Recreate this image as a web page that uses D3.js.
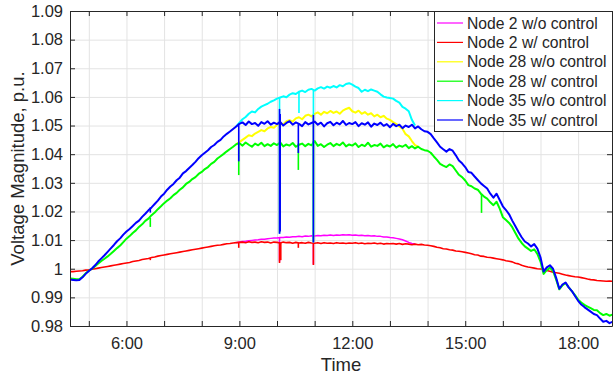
<!DOCTYPE html>
<html>
<head>
<meta charset="utf-8">
<script src="https://cdn.jsdelivr.net/npm/d3@7"></script>
<style>
body { margin: 0; background: #fff; }
text { font-family: "Liberation Sans", Arial, Helvetica, sans-serif; fill: #262626; }
</style>
</head>
<body>
<script>

// sample clock: every 5 minutes from 4:30 to 18:55
var sampleStart = "4:30", sampleStep = 5, sampleCount = 174;
var windowStart = "8:55"; // w/o control series only differ from here on

var seriesNames = ["Node 2 w/o control", "Node 2 w/ control", "Node 28 w/o control",
                   "Node 28 w/ control", "Node 35 w/o control", "Node 35 w/ control"];
var seriesColors = ["#ff00ff", "#ff0000", "#ffff00", "#00ff00", "#00ffff", "#0000ff"];

var xTickHours = [5, 6, 7, 8, 9, 10, 11, 12, 13, 14, 15, 16, 17, 18];
var xTickLabels = {6: "6:00", 9: "9:00", 12: "12:00", 15: "15:00", 18: "18:00"};
var yTicks = [0.98, 0.99, 1.00, 1.01, 1.02, 1.03, 1.04, 1.05, 1.06, 1.07, 1.08, 1.09];
var yTickLabels = ["0.98", "0.99", "1", "1.01", "1.02", "1.03", "1.04", "1.05", "1.06", "1.07", "1.08", "1.09"];

// Node 2 w/ control
var node2With = [
  0.9990, 0.9990, 0.9991, 0.9992, 0.9993, 0.9995,
  0.9996, 0.9998, 1.0000, 1.0002, 1.0004, 1.0006, 1.0008, 1.0010, 1.0012, 1.0014, 1.0016, 1.0018,
  1.0020, 1.0022, 1.0025, 1.0027, 1.0029, 1.0032, 1.0034, 1.0036, 1.0039, 1.0041, 1.0044, 1.0046,
  1.0048, 1.0050, 1.0052, 1.0054, 1.0056, 1.0058, 1.0060, 1.0062, 1.0064, 1.0066, 1.0068, 1.0070,
  1.0072, 1.0074, 1.0076, 1.0078, 1.0080, 1.0082, 1.0083, 1.0085, 1.0087, 1.0088, 1.0090, 1.0091,
  1.0092, 1.0093, 1.0091, 1.0094, 1.0092, 1.0093, 1.0091, 1.0094, 1.0092, 1.0093, 1.0090, 1.0093,
  1.0092, 1.0090, 1.0093, 1.0091, 1.0092, 1.0089, 1.0092, 1.0090, 1.0091, 1.0089, 1.0092, 1.0090,
  1.0089, 1.0091, 1.0088, 1.0091, 1.0089, 1.0090, 1.0088, 1.0091, 1.0089, 1.0090, 1.0088, 1.0090,
  1.0089, 1.0091, 1.0088, 1.0090, 1.0087, 1.0089, 1.0088, 1.0090, 1.0087, 1.0089, 1.0086, 1.0088,
  1.0087, 1.0088, 1.0086, 1.0088, 1.0085, 1.0087, 1.0086, 1.0084, 1.0086, 1.0084, 1.0085, 1.0083,
  1.0082, 1.0080, 1.0078, 1.0075, 1.0073, 1.0070, 1.0069, 1.0066, 1.0065, 1.0062, 1.0061, 1.0059,
  1.0057, 1.0055, 1.0052, 1.0049, 1.0048, 1.0044, 1.0043, 1.0040, 1.0039, 1.0037, 1.0035, 1.0033,
  1.0031, 1.0028, 1.0026, 1.0024, 1.0019, 1.0017, 1.0012, 1.0009, 1.0006, 1.0004, 1.0002, 1.0000,
  0.9999, 0.9998, 0.9994, 0.9991, 0.9988, 0.9986, 0.9984, 0.9981, 0.9978, 0.9976, 0.9974, 0.9972,
  0.9971, 0.9969, 0.9967, 0.9964, 0.9962, 0.9961, 0.9959, 0.9958, 0.9957, 0.9956, 0.9957, 0.9956
];

// Node 28 w/ control
var node28With = [
  0.9966, 0.9965, 0.9963, 0.9963, 0.9972, 0.9984,
  0.9993, 1.0000, 1.0009, 1.0018, 1.0027, 1.0035, 1.0043, 1.0052, 1.0062, 1.0072, 1.0081, 1.0093,
  1.0105, 1.0114, 1.0125, 1.0134, 1.0146, 1.0155, 1.0167, 1.0175, 1.0187, 1.0196, 1.0208, 1.0218,
  1.0229, 1.0238, 1.0246, 1.0257, 1.0265, 1.0276, 1.0284, 1.0296, 1.0303, 1.0313, 1.0320, 1.0331,
  1.0338, 1.0348, 1.0355, 1.0366, 1.0373, 1.0385, 1.0393, 1.0401, 1.0410, 1.0418, 1.0426, 1.0435,
  1.0438, 1.0430, 1.0441, 1.0433, 1.0426, 1.0437, 1.0431, 1.0440, 1.0428, 1.0435, 1.0429, 1.0438,
  1.0432, 1.0441, 1.0427, 1.0434, 1.0430, 1.0439, 1.0426, 1.0433, 1.0437, 1.0428, 1.0436, 1.0431,
  1.0446, 1.0429, 1.0435, 1.0425, 1.0433, 1.0439, 1.0428, 1.0436, 1.0431, 1.0441, 1.0427, 1.0434,
  1.0430, 1.0438, 1.0425, 1.0433, 1.0428, 1.0440, 1.0426, 1.0432, 1.0429, 1.0437, 1.0424, 1.0431,
  1.0427, 1.0435, 1.0423, 1.0430, 1.0426, 1.0433, 1.0421, 1.0428, 1.0420, 1.0426, 1.0418, 1.0414,
  1.0412, 1.0405, 1.0392, 1.0380, 1.0366, 1.0360, 1.0355, 1.0364, 1.0358, 1.0343, 1.0328, 1.0320,
  1.0308, 1.0292, 1.0288, 1.0280, 1.0276, 1.0262, 1.0252, 1.0245, 1.0232, 1.0222, 1.0234, 1.0210,
  1.0180, 1.0170, 1.0160, 1.0145, 1.0125, 1.0105, 1.0090, 1.0078, 1.0070, 1.0062, 1.0068, 1.0052,
  1.0025, 0.9982, 0.9995, 1.0003, 0.9992, 0.9962, 0.9928, 0.9942, 0.9950, 0.9935, 0.9922, 0.9908,
  0.9892, 0.9882, 0.9874, 0.9868, 0.9862, 0.9856, 0.9855, 0.9845, 0.9838, 0.9842, 0.9836, 0.9840
];

// Node 35 w/ control
var node35With = [
  0.9962, 0.9961, 0.9960, 0.9961, 0.9970, 0.9982,
  0.9992, 1.0001, 1.0012, 1.0025, 1.0036, 1.0047, 1.0059, 1.0071, 1.0083, 1.0096, 1.0106, 1.0119,
  1.0130, 1.0139, 1.0149, 1.0160, 1.0168, 1.0181, 1.0192, 1.0204, 1.0214, 1.0226, 1.0238, 1.0252,
  1.0262, 1.0276, 1.0287, 1.0296, 1.0309, 1.0318, 1.0333, 1.0341, 1.0352, 1.0362, 1.0373, 1.0386,
  1.0396, 1.0405, 1.0414, 1.0425, 1.0432, 1.0443, 1.0450, 1.0462, 1.0471, 1.0479, 1.0488, 1.0497,
  1.0506, 1.0511, 1.0502, 1.0514, 1.0505, 1.0509, 1.0499, 1.0512, 1.0506, 1.0515, 1.0503, 1.0510,
  1.0505, 1.0513, 1.0500, 1.0509, 1.0515, 1.0503, 1.0511, 1.0506, 1.0498, 1.0512, 1.0504, 1.0509,
  1.0514, 1.0503, 1.0510, 1.0497, 1.0508, 1.0513, 1.0501, 1.0510, 1.0504, 1.0516, 1.0502, 1.0509,
  1.0505, 1.0512, 1.0498, 1.0508, 1.0503, 1.0511, 1.0496, 1.0507, 1.0502, 1.0510, 1.0499, 1.0505,
  1.0494, 1.0506, 1.0498, 1.0503, 1.0491, 1.0500, 1.0495, 1.0503, 1.0490, 1.0497, 1.0487, 1.0480,
  1.0478, 1.0470, 1.0455, 1.0441, 1.0426, 1.0417, 1.0409, 1.0418, 1.0412, 1.0396, 1.0378, 1.0368,
  1.0355, 1.0338, 1.0335, 1.0322, 1.0310, 1.0298, 1.0289, 1.0280, 1.0262, 1.0248, 1.0262, 1.0240,
  1.0218, 1.0205, 1.0190, 1.0168, 1.0148, 1.0128, 1.0110, 1.0095, 1.0088, 1.0078, 1.0086, 1.0070,
  1.0040, 0.9990, 1.0005, 1.0012, 1.0000, 0.9968, 0.9930, 0.9945, 0.9952, 0.9935, 0.9922, 0.9905,
  0.9888, 0.9875, 0.9866, 0.9858, 0.9850, 0.9842, 0.9838, 0.9826, 0.9815, 0.9818, 0.9810, 0.9815
];

// w/o control series, from 8:55 on (identical to the w/ series elsewhere)
var node2Without = [
  1.0091,
  1.0093, 1.0095, 1.0096, 1.0098, 1.0099, 1.0100, 1.0101, 1.0103, 1.0103, 1.0105, 1.0106, 1.0107,
  1.0107, 1.0109, 1.0109, 1.0111, 1.0110, 1.0112, 1.0112, 1.0113, 1.0112, 1.0114, 1.0113, 1.0115,
  1.0114, 1.0116, 1.0115, 1.0117, 1.0116, 1.0118, 1.0116, 1.0118, 1.0117, 1.0119, 1.0118, 1.0119,
  1.0117, 1.0118, 1.0116, 1.0117, 1.0115, 1.0116, 1.0114, 1.0115, 1.0113, 1.0113, 1.0111, 1.0111,
  1.0109, 1.0108, 1.0106, 1.0104, 1.0101, 1.0097, 1.0092, 1.0088, 1.0086
];

var node28Without = [
  1.0435,
  1.0442, 1.0450, 1.0458, 1.0466, 1.0463, 1.0472, 1.0478, 1.0484, 1.0480, 1.0490, 1.0495, 1.0492,
  1.0503, 1.0508, 1.0505, 1.0515, 1.0519, 1.0514, 1.0525, 1.0529, 1.0522, 1.0534, 1.0538, 1.0532,
  1.0541, 1.0546, 1.0538, 1.0548, 1.0543, 1.0551, 1.0544, 1.0549, 1.0541, 1.0552, 1.0558, 1.0562,
  1.0550, 1.0545, 1.0552, 1.0541, 1.0547, 1.0538, 1.0543, 1.0532, 1.0538, 1.0529, 1.0534, 1.0524,
  1.0520, 1.0512, 1.0506, 1.0497, 1.0489, 1.0470, 1.0462, 1.0446, 1.0432, 1.0426
];

var node35Without = [
  1.0497,
  1.0510, 1.0522, 1.0530, 1.0541, 1.0549, 1.0546, 1.0558, 1.0566, 1.0571, 1.0576, 1.0583, 1.0588,
  1.0594, 1.0598, 1.0602, 1.0599, 1.0608, 1.0613, 1.0610, 1.0618, 1.0622, 1.0617, 1.0625, 1.0628,
  1.0622, 1.0630, 1.0634, 1.0629, 1.0636, 1.0632, 1.0638, 1.0633, 1.0641, 1.0637, 1.0645, 1.0648,
  1.0643, 1.0636, 1.0631, 1.0618, 1.0625, 1.0620, 1.0626, 1.0622, 1.0618, 1.0609, 1.0601, 1.0598,
  1.0596, 1.0594, 1.0586, 1.0580, 1.0565, 1.0559, 1.0550, 1.0520, 1.0500
];

// short drops: [time, from, to]
var node2WithoutSpikes = [["10:04", 1.0108, 1.0025], ["10:58", 1.0114, 1.0015]];
var node2WithSpikes = [["6:38", 1.0037, 1.0030], ["8:59", 1.0092, 1.0073], ["10:04", 1.0092, 1.0020],
                       ["10:06", 1.0090, 1.0030], ["10:34", 1.0091, 1.0073], ["10:58", 1.0089, 1.0013]];
var node28WithoutSpikes = [["10:04", 1.0505, 1.0125], ["10:58", 1.0541, 1.0092]];
var node28WithSpikes = [["6:38", 1.0178, 1.0146], ["8:59", 1.0440, 1.0327], ["10:05", 1.0440, 1.0135],
                        ["10:34", 1.0437, 1.0345], ["10:58", 1.0446, 1.0095], ["15:26", 1.0262, 1.0195]];
var node35WithoutSpikes = [["10:04", 1.0598, 1.0122], ["10:35", 1.0620, 1.0544], ["10:58", 1.0622, 1.0092]];
var node35WithSpikes = [["6:38", 1.0214, 1.0196], ["8:59", 1.0505, 1.0375], ["10:04", 1.0558, 1.0122],
                        ["10:05", 1.0540, 1.0130], ["10:34", 1.0505, 1.0404], ["10:58", 1.0537, 1.0092]];


function hours(s) {
  var p = s.split(":");
  return +p[0] + (+p[1]) / 60;
}

var t0 = hours(sampleStart);
var times = d3.range(sampleCount).map(function(i) { return t0 + i * sampleStep / 60; });
var w0 = Math.round((hours(windowStart) - t0) * 60 / sampleStep);

function pairs(values, offset) {
  return values.map(function(v, i) { return {t: times[offset + i], v: v}; });
}

var series = [
  {values: pairs(node2Without, w0), spikes: node2WithoutSpikes, w: 1.5},
  {values: pairs(node2With, 0), spikes: node2WithSpikes, w: 1.6},
  {values: pairs(node28Without, w0), spikes: node28WithoutSpikes, w: 2},
  {values: pairs(node28With, 0), spikes: node28WithSpikes, w: 2},
  {values: pairs(node35Without, w0), spikes: node35WithoutSpikes, w: 2},
  {values: pairs(node35With, 0), spikes: node35WithSpikes, w: 2}
];

var margin = {top: 11, right: 3, bottom: 54, left: 70},
    width = 615 - margin.left - margin.right,
    height = 380 - margin.top - margin.bottom;

var xScale = d3.scaleLinear().domain([4.5, 18.9]).range([0, width]);
var yScale = d3.scaleLinear().domain([0.98, 1.09]).range([height, 0]);

var svg = d3.select("body").append("svg")
    .attr("width", 615)
    .attr("height", 380)
  .append("g")
    .attr("transform", "translate(" + margin.left + "," + margin.top + ")");

svg.append("clipPath").attr("id", "clip")
  .append("rect").attr("width", width).attr("height", height);

// grid
svg.append("g")
    .attr("transform", "translate(0," + height + ")")
    .call(d3.axisBottom(xScale).tickValues(xTickHours).tickSize(-height).tickFormat(""))
    .call(function(g) { g.select(".domain").remove(); g.selectAll("line").attr("stroke", "#e3e3e3"); });
svg.append("g")
    .call(d3.axisLeft(yScale).tickValues(yTicks).tickSize(-width).tickFormat(""))
    .call(function(g) { g.select(".domain").remove(); g.selectAll("line").attr("stroke", "#e3e3e3"); });

var line = d3.line()
    .x(function(d) { return xScale(d.t); })
    .y(function(d) { return yScale(d.v); });

var plot = svg.append("g").attr("clip-path", "url(#clip)");

series.forEach(function(s, i) {
  plot.append("path")
      .datum(s.values)
      .attr("d", line)
      .attr("fill", "none")
      .attr("stroke", seriesColors[i])
      .attr("stroke-width", s.w)
      .attr("stroke-linejoin", "round");
  plot.selectAll(null)
      .data(s.spikes)
    .enter().append("line")
      .attr("x1", function(d) { return xScale(hours(d[0])); })
      .attr("x2", function(d) { return xScale(hours(d[0])); })
      .attr("y1", function(d) { return yScale(d[1]); })
      .attr("y2", function(d) { return yScale(d[2]); })
      .attr("stroke", seriesColors[i])
      .attr("stroke-width", 1.6);
});

// axes, ticks pointing inward like matlab
function styleAxis(g) {
  g.select(".domain").attr("stroke", "#262626");
  g.selectAll(".tick line").attr("stroke", "#262626");
  g.selectAll("text").style("font-size", "16.5px").attr("fill", "#262626");
}

svg.append("g")
    .attr("transform", "translate(0," + height + ")")
    .call(d3.axisBottom(xScale).tickValues(xTickHours).tickSizeInner(-5).tickSizeOuter(0).tickPadding(11)
      .tickFormat(function(h) { return xTickLabels[h] || ""; }))
    .call(styleAxis);

svg.append("g")
    .call(d3.axisTop(xScale).tickValues(xTickHours).tickSizeInner(-5).tickSizeOuter(0).tickFormat(""))
    .call(styleAxis);

svg.append("g")
    .call(d3.axisLeft(yScale).tickValues(yTicks).tickSizeInner(-5).tickSizeOuter(0).tickPadding(7)
      .tickFormat(function(d, i) { return yTickLabels[i]; }))
    .call(styleAxis);

svg.append("g")
    .attr("transform", "translate(" + width + ",0)")
    .call(d3.axisRight(yScale).tickValues(yTicks).tickSizeInner(-5).tickSizeOuter(0).tickFormat(""))
    .call(styleAxis);

svg.append("text")
    .attr("x", width / 2)
    .attr("y", height + 45)
    .attr("text-anchor", "middle")
    .style("font-size", "18.5px")
    .text("Time");

svg.append("text")
    .attr("transform", "rotate(-90)")
    .attr("x", -height / 2)
    .attr("y", -46)
    .attr("text-anchor", "middle")
    .style("font-size", "18.5px")
    .text("Voltage Magnitude, p.u.");

// legend
var legend = svg.append("g").attr("transform", "translate(" + (width - 178) + ",0)");
legend.append("rect")
    .attr("x", 0.5).attr("y", 0.5)
    .attr("width", 178).attr("height", 120)
    .attr("fill", "#fff")
    .attr("stroke", "#262626");

var item = legend.selectAll(".item")
    .data(seriesNames)
  .enter().append("g")
    .attr("transform", function(d, i) { return "translate(0," + (12 + i * 19.4) + ")"; });
item.append("line")
    .attr("x1", 3).attr("x2", 29)
    .attr("stroke", function(d, i) { return seriesColors[i]; })
    .attr("stroke-width", 1.2);
item.append("text")
    .attr("x", 33)
    .attr("dy", "0.35em")
    .style("font-size", "15.7px")
    .text(function(d) { return d; });

</script>
</body>
</html>
